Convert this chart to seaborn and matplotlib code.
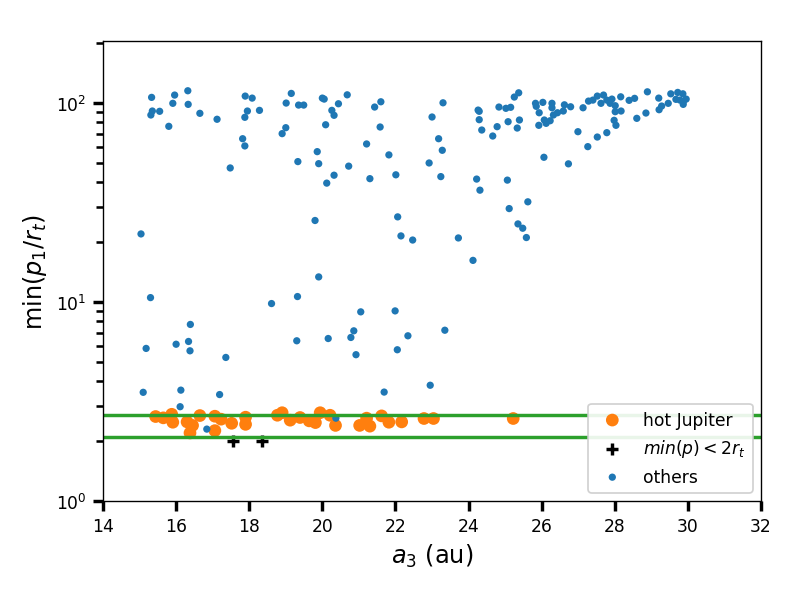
import matplotlib
matplotlib.use("Agg")
import matplotlib.pyplot as plt
import seaborn as sns

# hot Jupiter systems
hj_a3 = [15.44, 15.65, 15.88, 15.91, 16.30, 16.45, 16.38, 16.65, 17.06, 17.06,
         17.23, 17.52, 17.90, 17.90, 18.77, 18.90, 19.12, 19.39, 19.64, 19.81,
         19.94, 20.21, 20.36, 21.02, 21.21, 21.30, 21.62, 21.82, 22.17, 22.78,
         23.04, 25.22]
hj_ratio = [2.66, 2.62, 2.73, 2.49, 2.50, 2.40, 2.20, 2.69, 2.67, 2.26,
            2.58, 2.46, 2.64, 2.43, 2.70, 2.78, 2.55, 2.63, 2.53, 2.48,
            2.78, 2.70, 2.40, 2.40, 2.61, 2.38, 2.68, 2.49, 2.50, 2.60,
            2.60, 2.60]

# systems with min(p) < 2 r_t
close_a3 = [17.56, 18.36]
close_ratio = [2.0, 2.0]

# everything else
oth_a3 = [15.33, 15.35, 15.31, 15.55, 15.96, 15.91, 16.32, 16.33, 15.80, 16.65,
          17.12, 17.48, 15.04, 17.89, 18.08, 17.95, 17.88, 18.28, 17.82, 17.88,
          19.01, 19.15, 19.35, 19.49, 19.00, 18.90, 19.33, 19.86, 19.90, 19.80,
          20.00, 20.05, 20.44, 20.68, 20.26, 20.32, 20.09, 20.32, 20.12, 20.72,
          21.43, 21.60, 21.58, 21.21, 21.82, 21.30, 22.01, 22.06, 22.15, 22.47,
          23.30, 23.00, 23.18, 23.28, 22.92, 23.24, 23.72, 24.26, 24.29, 24.29,
          24.36, 24.66, 24.78, 24.83, 25.02, 25.15, 25.08, 25.25, 25.37, 25.39,
          25.33, 24.22, 24.31, 25.06, 25.11, 25.62, 25.35, 25.48, 25.58, 25.83,
          25.85, 26.03, 25.93, 26.28, 26.28, 26.62, 26.79, 26.59, 26.43, 26.32,
          26.07, 26.12, 26.23, 25.92, 27.13, 27.28, 27.40, 27.52, 27.69, 27.62,
          27.78, 27.92, 27.87, 28.01, 28.01, 28.17, 28.16, 27.98, 28.03, 28.39,
          28.54, 28.60, 28.89, 28.85, 29.20, 29.28, 29.21, 29.46, 29.53, 29.72,
          29.86, 29.67, 29.78, 29.87, 29.95, 29.87, 26.99, 27.78, 27.52, 27.26,
          26.06, 26.73, 15.30, 15.18, 15.10, 16.00, 16.34, 16.38, 16.39, 16.13,
          16.11, 17.36, 17.19, 18.61, 19.32, 19.30, 19.90, 16.84, 24.12, 21.05,
          21.99, 20.86, 20.78, 20.16, 20.92, 22.34, 22.05, 23.35, 22.95, 21.69,
          20.37]
oth_ratio = [106.8, 91.2, 87.1, 90.9, 109.7, 99.7, 115.3, 98.5, 76.4, 88.8,
             82.9, 47.2, 22.0, 108.4, 105.9, 91.2, 84.8, 91.9, 66.2, 60.9,
             100.0, 111.8, 97.7, 97.7, 75.2, 70.2, 50.8, 57.0, 49.6, 25.7,
             105.9, 104.7, 99.2, 110.0, 91.9, 86.8, 77.8, 43.4, 39.6, 48.2,
             95.5, 101.5, 75.8, 62.3, 54.9, 41.7, 43.6, 26.8, 21.5, 20.5,
             100.3, 85.1, 66.2, 57.9, 50.0, 42.7, 21.0, 92.2, 90.9, 82.5,
             73.2, 68.3, 76.1, 95.5, 94.1, 95.2, 80.6, 107.2, 112.6, 82.2,
             74.9, 41.5, 36.5, 41.0, 29.5, 31.9, 24.7, 23.5, 21.1, 99.7,
             96.3, 100.8, 89.4, 99.7, 94.7, 98.0, 95.8, 91.2, 89.4, 87.1,
             82.2, 79.1, 81.5, 77.3, 94.7, 102.3, 103.5, 108.4, 109.7, 99.7,
             103.5, 104.7, 99.7, 97.0, 90.5, 91.2, 107.5, 81.9, 77.3, 103.2,
             105.6, 83.8, 113.9, 89.1, 105.9, 96.6, 92.6, 99.7, 111.3, 113.1,
             111.3, 104.4, 103.5, 101.5, 104.7, 98.5, 71.8, 71.0, 67.5, 60.4,
             53.4, 49.5, 10.53, 5.85, 3.52, 6.14, 6.34, 5.69, 7.72, 3.61,
             2.98, 5.27, 3.43, 9.83, 10.66, 6.39, 13.38, 2.30, 16.2, 8.93,
             9.03, 7.17, 6.64, 6.56, 5.44, 6.77, 5.76, 7.22, 3.82, 3.53,
             2.61]

hline_levels = [2.7, 2.1]

fig, ax = plt.subplots(figsize=(6.4, 4.785), dpi=123.3)
plt.subplots_adjust(left=0.1305, right=0.9645, bottom=0.149, top=0.9288)

sns.scatterplot(x=hj_a3, y=hj_ratio, color="tab:orange", s=55,
                edgecolor="none", label="hot Jupiter", ax=ax)
sns.scatterplot(x=close_a3, y=close_ratio, color="black", marker="+", s=55,
                linewidth=2, label=r"$min(p) < 2r_t$", ax=ax)
sns.scatterplot(x=oth_a3, y=oth_ratio, color="tab:blue", s=18,
                edgecolor="none", label="others", ax=ax)
for lvl in hline_levels:
    ax.axhline(lvl, color="tab:green", lw=2)

ax.set_yscale("log")
ax.set_xlim(14, 32)
ax.set_ylim(1, 205)
ax.set_xticks(range(14, 33, 2))
ax.tick_params(which="major", length=6, width=2, labelsize=10)
ax.tick_params(which="minor", length=4, width=1.5)
ax.set_xlabel(r"$a_3$ (au)", fontsize=14)
ax.set_ylabel(r"min($p_1/r_t$)", fontsize=14)
ax.legend(loc="lower right", fontsize=10, framealpha=0.9)

fig.savefig("out.png", dpi=123.3)
